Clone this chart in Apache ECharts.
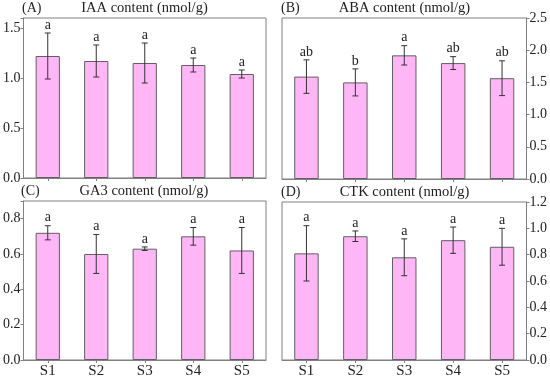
<!DOCTYPE html>
<html>
<head>
<meta charset="utf-8">
<script src="https://cdn.jsdelivr.net/npm/echarts@6/dist/echarts.min.js"></script>
<style>html,body{margin:0;padding:0;background:#fff}#c{width:550px;height:379px}</style>
</head>
<body>
<div id="c"></div>
<script>
const categories = ['S1', 'S2', 'S3', 'S4', 'S5'];

const iaaMean = [1.22, 1.17, 1.15, 1.13, 1.04];
const iaaErr = [0.23, 0.16, 0.20, 0.07, 0.04];
const iaaLetters = ['a', 'a', 'a', 'a', 'a'];

const abaMean = [1.59, 1.50, 1.92, 1.80, 1.565];
const abaErr = [0.26, 0.21, 0.15, 0.10, 0.27];
const abaLetters = ['ab', 'b', 'a', 'ab', 'ab'];

const ga3Mean = [0.72, 0.60, 0.63, 0.70, 0.62];
const ga3Err = [0.04, 0.11, 0.01, 0.05, 0.13];
const ga3Letters = ['a', 'a', 'a', 'a', 'a'];

const ctkMean = [0.81, 0.94, 0.78, 0.91, 0.86];
const ctkErr = [0.21, 0.04, 0.14, 0.10, 0.14];
const ctkLetters = ['a', 'a', 'a', 'a', 'a'];

const panelTitles = ['IAA content (nmol/g)', 'ABA content (nmol/g)', 'GA3 content (nmol/g)', 'CTK content (nmol/g)'];
const panelLabels = ['(A)', '(B)', '(C)', '(D)'];
const yMax = [1.6, 2.5, 0.9, 1.2];
const yInterval = [0.5, 0.5, 0.2, 0.2];

const FONT = 'Liberation Serif';
const panels = [
  {mean: iaaMean, err: iaaErr, letters: iaaLetters},
  {mean: abaMean, err: abaErr, letters: abaLetters},
  {mean: ga3Mean, err: ga3Err, letters: ga3Letters},
  {mean: ctkMean, err: ctkErr, letters: ctkLetters}
];

const grids = [
  {left: 23, top: 18, width: 243, height: 160},
  {left: 282, top: 18, width: 245, height: 161},
  {left: 22, top: 201, width: 244, height: 161},
  {left: 282, top: 202, width: 245, height: 160}
];

const xAxes = [], yAxes = [], series = [], titles = [];
grids.forEach((g, i) => {
  g.show = true; g.borderColor = '#808080'; g.borderWidth = 1;
  const bottomRow = i >= 2;
  xAxes.push({
    type: 'category', gridIndex: i, data: categories,
    axisLine: {show: true, lineStyle: {color: '#808080'}},
    axisTick: {show: true, alignWithLabel: true, length: 3, lineStyle: {color: '#808080'}},
    axisLabel: {show: bottomRow, fontFamily: FONT, fontSize: 15, color: '#222', margin: 4}
  });
  const max = yMax[i], intv = yInterval[i];
  yAxes.push({
    type: 'value', gridIndex: i, min: 0, max: max, interval: intv,
    position: (i % 2 === 1) ? 'right' : 'left',
    splitLine: {show: false},
    axisLine: {show: true, lineStyle: {color: '#808080'}},
    axisTick: {show: true, length: 3, lineStyle: {color: '#808080'}},
    axisLabel: {
      fontFamily: FONT, fontSize: 14, color: '#222', margin: 3,
      formatter: v => (Math.abs(v / intv - Math.round(v / intv)) < 1e-6) ? v.toFixed(1) : ''
    }
  });
  const p = panels[i];
  series.push({
    type: 'bar', xAxisIndex: i, yAxisIndex: i, data: p.mean, barWidth: '50%',
    itemStyle: {color: '#FFB6F6', borderColor: '#606060', borderWidth: 1},
    silent: true
  });
  series.push({
    type: 'custom', xAxisIndex: i, yAxisIndex: i,
    data: p.mean.map((m, k) => [k, m - p.err[k], m + p.err[k], p.letters[k]]),
    renderItem: function (params, api) {
      const x = api.coord([api.value(0), 0])[0];
      const lo = api.coord([api.value(0), api.value(1)])[1];
      const hi = api.coord([api.value(0), api.value(2)])[1];
      const cap = 3;
      const st = {stroke: '#333', lineWidth: 1};
      return {
        type: 'group',
        children: [
          {type: 'line', shape: {x1: x, y1: lo, x2: x, y2: hi}, style: st},
          {type: 'line', shape: {x1: x - cap, y1: lo, x2: x + cap, y2: lo}, style: st},
          {type: 'line', shape: {x1: x - cap, y1: hi, x2: x + cap, y2: hi}, style: st},
          {type: 'text', style: {text: api.value(3), x: x, y: hi - 1, align: 'center', verticalAlign: 'bottom',
            font: '14px "' + FONT + '"', fill: '#222'}}
        ]
      };
    },
    silent: true, z: 5
  });
  titles.push({
    text: panelTitles[i], left: g.left + g.width / 2, top: g.top - 17, textAlign: 'center', padding: 0,
    textStyle: {fontFamily: FONT, fontSize: 14.5, fontWeight: 'normal', color: '#222'}
  });
  titles.push({
    text: panelLabels[i], left: g.left - 1, top: g.top - 17, padding: 0,
    textStyle: {fontFamily: FONT, fontSize: 14, fontWeight: 'normal', color: '#222'}
  });
});

const chart = echarts.init(document.getElementById('c'), null, {renderer: 'canvas'});
chart.setOption({
  animation: false,
  backgroundColor: '#fff',
  title: titles,
  grid: grids,
  xAxis: xAxes,
  yAxis: yAxes,
  series: series
});
</script>
</body>
</html>
